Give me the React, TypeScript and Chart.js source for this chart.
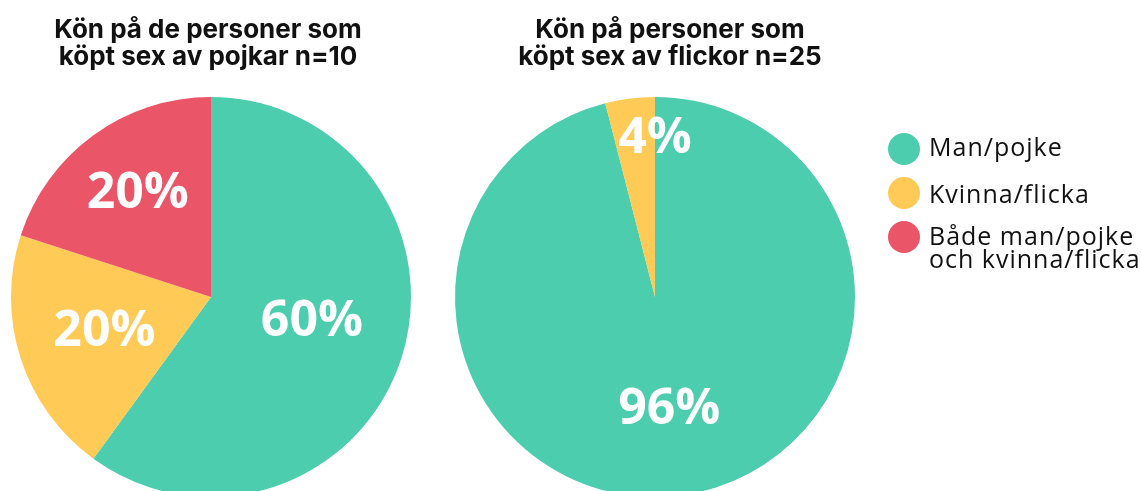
import React, { useEffect, useRef } from "react";
import { Chart, registerables } from "chart.js";

Chart.register(...registerables);

const categories = ["Man/pojke", "Kvinna/flicka", "Både man/pojke och kvinna/flicka"];
const boysValues = [60, 20, 20];
const girlsValues = [96, 4, 0];
const colors = ["#4ccdad", "#ffca56", "#ea5567"];
const boysTitle = ["Kön på de personer som", "köpt sex av pojkar n=10"];
const girlsTitle = ["Kön på personer som", "köpt sex av flickor n=25"];
const legendLabels = [["Man/pojke"], ["Kvinna/flicka"], ["Både man/pojke", "och kvinna/flicka"]];

const W = 1141;
const H = 600;

type Cfg = {
  values: number[];
  title: string[];
  titleX: number;
  padding: { top: number; left: number; right: number; bottom: number };
  labelFrac: number[];
  labelDx: number[];
  labelDy: number[];
  legend: boolean;
};

const makePlugin = (cfg: Cfg) => ({
  id: "custom-text",
  afterDatasetsDraw(chart: any) {
    const ctx = chart.ctx;
    ctx.save();
    // percentage labels
    const meta = chart.getDatasetMeta(0);
    meta.data.forEach((arc: any, i: number) => {
      const v = cfg.values[i];
      if (!v) return;
      const p = arc.getProps(["x", "y", "startAngle", "endAngle", "outerRadius"], true);
      const mid = (p.startAngle + p.endAngle) / 2;
      const r = p.outerRadius * cfg.labelFrac[i];
      ctx.fillStyle = "#ffffff";
      ctx.font = "bold 50px 'Open Sans'";
      ctx.textAlign = "center";
      ctx.textBaseline = "middle";
      ctx.fillText(
        v + "%",
        p.x + Math.cos(mid) * r + cfg.labelDx[i],
        p.y + Math.sin(mid) * r + cfg.labelDy[i]
      );
    });
    // title
    ctx.fillStyle = "#111111";
    ctx.font = "bold 26px Inter";
    ctx.textAlign = "center";
    ctx.textBaseline = "alphabetic";
    cfg.title.forEach((line, i) => ctx.fillText(line, cfg.titleX, 37.5 + i * 27.5));
    // legend
    if (cfg.legend) {
      const ys = [149, 193, 237];
      const baselines = [[156], [202.5], [245, 268]];
      legendLabels.forEach((lines, i) => {
        ctx.fillStyle = colors[i];
        ctx.beginPath();
        ctx.arc(904, ys[i], 16, 0, Math.PI * 2);
        ctx.fill();
        ctx.fillStyle = "#111111";
        ctx.font = "500 25px 'Open Sans'";
        try {
          (ctx as any).letterSpacing = "1px";
        } catch (e) {}
        ctx.textAlign = "left";
        ctx.textBaseline = "alphabetic";
        lines.forEach((l, j) => ctx.fillText(l, 929, baselines[i][j]));
        try {
          (ctx as any).letterSpacing = "0px";
        } catch (e) {}
      });
    }
    ctx.restore();
  },
});

function PieCanvas({ cfg }: { cfg: Cfg }) {
  const ref = useRef<HTMLCanvasElement>(null);
  useEffect(() => {
    if (!ref.current) return;
    const chart = new Chart(ref.current, {
      type: "pie",
      data: {
        labels: categories,
        datasets: [
          {
            data: cfg.values,
            backgroundColor: colors,
            borderWidth: 0,
            hoverOffset: 0,
            offset: 0,
          },
        ],
      },
      options: {
        responsive: false,
        animation: false,
        events: [],
        layout: { padding: cfg.padding },
        plugins: {
          legend: { display: false },
          tooltip: { enabled: false },
          title: { display: false },
        },
      },
      plugins: [makePlugin(cfg)],
    });
    return () => chart.destroy();
  }, []);
  return (
    <canvas
      ref={ref}
      width={W}
      height={H}
      style={{ position: "absolute", left: 0, top: 0, width: W, height: H }}
    />
  );
}

export default function App() {
  const left: Cfg = {
    values: boysValues,
    title: boysTitle,
    titleX: 208,
    padding: { top: 97, left: 11, right: W - 411, bottom: H - 497 },
    labelFrac: [0.52, 0.56, 0.64],
    labelDx: [2, 0, 2],
    labelDy: [-7, 0, 0],
    legend: false,
  };
  const right: Cfg = {
    values: girlsValues,
    title: girlsTitle,
    titleX: 670,
    padding: { top: 97, left: 455, right: W - 855, bottom: H - 497 },
    labelFrac: [0.57, 0.8, 0.6],
    labelDx: [0, 20, 0],
    labelDy: [0, 0, 0],
    legend: true,
  };
  return (
    <div
      style={{
        position: "fixed",
        left: 0,
        top: 0,
        width: W,
        height: 491,
        overflow: "hidden",
        background: "#ffffff",
      }}
    >
      <PieCanvas cfg={left} />
      <PieCanvas cfg={right} />
    </div>
  );
}
